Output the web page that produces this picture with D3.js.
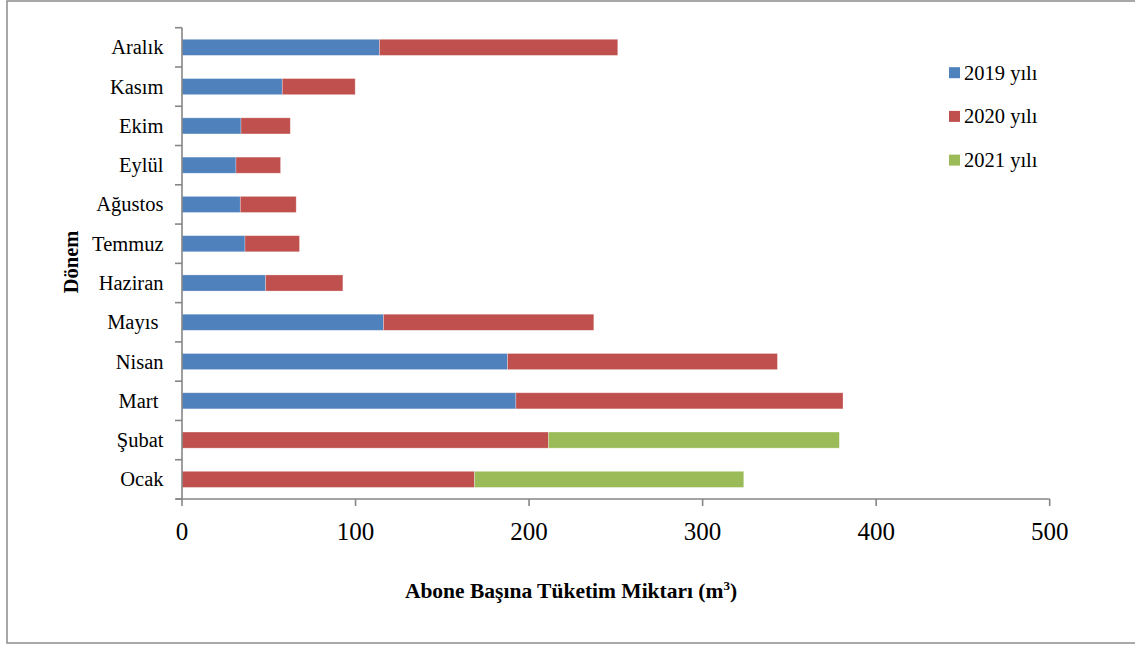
<!DOCTYPE html>
<html>
<head>
<meta charset="utf-8">
<script src="https://cdn.jsdelivr.net/npm/d3@7"></script>
<style>
  body { margin: 0; background: #fff; }
  svg { display: block; font-family: "Liberation Serif", "Times New Roman", serif; }
  .axis path, .axis line { stroke: #868686; }
</style>
</head>
<body>
<div id="chart"></div>
<script>
// months bottom to top, as in the chart
var months = ['Ocak', 'Şubat', 'Mart', 'Nisan', 'Mayıs', 'Haziran', 'Temmuz', 'Ağustos', 'Eylül', 'Ekim', 'Kasım', 'Aralık']
var monthLabels = ['Ocak', 'Şubat', 'Mart ', 'Nisan', 'Mayıs ', 'Haziran', 'Temmuz', 'Ağustos', 'Eylül', 'Ekim', 'Kasım', 'Aralık']

var v2019 = [0, 0, 192.4, 187.6, 116.1, 48.2, 36.3, 33.6, 31.1, 34.0, 57.8, 113.8]
var v2020 = [168.6, 211.2, 188.5, 155.5, 121.2, 44.5, 31.4, 32.2, 25.7, 28.4, 42.0, 137.3]
var v2021 = [155.1, 167.6, 0, 0, 0, 0, 0, 0, 0, 0, 0, 0]

var seriesKeys = ['2019 yılı', '2020 yılı', '2021 yılı']
var colors = ['#4F81BD', '#C0504D', '#9BBB59']
var xTicks = [0, 100, 200, 300, 400, 500]

var rows = months.map(function(m, i){
  return {month: m, label: monthLabels[i], '2019 yılı': v2019[i], '2020 yılı': v2020[i], '2021 yılı': v2021[i]}
})

var W = 1135, H = 648
var m = {left: 182, right: 1049.7, top: 27.7, bottom: 499}

var svg = d3.select('#chart').append('svg')
  .attr('width', W).attr('height', H)

// outer frame (right edge runs off the picture)
svg.append('rect')
  .attr('x', 7).attr('y', 1).attr('width', 1140).attr('height', 642)
  .attr('fill', 'none').attr('stroke', '#8c8c8c').attr('stroke-width', 1.5)

var x = d3.scaleLinear().domain([0, 500]).range([m.left, m.right])
var y = d3.scaleBand().domain(months).range([m.bottom, m.top])
  .paddingInner(0.59).paddingOuter(0.295)

var stack = d3.stack().keys(seriesKeys)
var layers = stack(rows)

var layerSel = svg.selectAll('g.layer').data(layers).join('g')
  .attr('class', 'layer')
  .attr('fill', function(d, i){ return colors[i] })

layerSel.selectAll('rect')
  .data(function(d){ return d.filter(function(p){ return p[1] > p[0] }) })
  .join('rect')
  .attr('x', function(d){ return x(d[0]) })
  .attr('width', function(d){ return x(d[1]) - x(d[0]) })
  .attr('y', function(d){ return y(d.data.month) })
  .attr('height', y.bandwidth())
  .attr('stroke', 'rgba(255,255,255,0.35)')
  .attr('stroke-width', 0.8)

// y axis line with ticks at band edges
var yAxisG = svg.append('g').attr('class', 'axis')
yAxisG.append('line')
  .attr('x1', m.left).attr('x2', m.left).attr('y1', m.top).attr('y2', m.bottom)
  .attr('stroke-width', 1.6)
var step = y.step()
d3.range(months.length + 1).forEach(function(i){
  yAxisG.append('line')
    .attr('x1', m.left - 7).attr('x2', m.left)
    .attr('y1', m.bottom - i * step).attr('y2', m.bottom - i * step)
    .attr('stroke-width', 1.6)
})

svg.selectAll('text.month').data(rows).join('text')
  .attr('class', 'month')
  .attr('x', 163.5)
  .attr('y', function(d){ return y(d.month) + y.bandwidth() / 2 + 7 })
  .attr('text-anchor', 'end')
  .style('white-space', 'pre')
  .attr('font-size', 20.5)
  .attr('fill', '#000')
  .text(function(d){ return d.label })

// x axis
var xAxisG = svg.append('g').attr('class', 'axis')
xAxisG.append('line')
  .attr('x1', m.left - 6).attr('x2', m.right).attr('y1', m.bottom).attr('y2', m.bottom)
  .attr('stroke-width', 1.6)
xAxisG.selectAll('line.tick').data(xTicks).join('line')
  .attr('class', 'tick')
  .attr('x1', x).attr('x2', x).attr('y1', m.bottom).attr('y2', m.bottom + 7)
  .attr('stroke-width', 1.6)
svg.selectAll('text.xtick').data(xTicks).join('text')
  .attr('class', 'xtick')
  .attr('x', x).attr('y', 539.5)
  .attr('text-anchor', 'middle')
  .attr('font-size', 25)
  .attr('fill', '#000')
  .text(function(d){ return d })

// axis titles
var xt = svg.append('text')
  .attr('x', 571).attr('y', 598)
  .attr('text-anchor', 'middle')
  .attr('font-size', 21.5).attr('font-weight', 'bold')
xt.append('tspan').text('Abone Başına Tüketim Miktarı (m')
xt.append('tspan').attr('font-size', 13).attr('dy', -8).text('3')
xt.append('tspan').attr('dy', 8).text(')')

svg.append('text')
  .attr('transform', 'translate(78,262) rotate(-90)')
  .attr('text-anchor', 'middle')
  .attr('font-size', 20.5).attr('font-weight', 'bold')
  .text('Dönem')

// legend
var legend = svg.selectAll('g.legend').data(seriesKeys).join('g')
  .attr('class', 'legend')
  .attr('transform', function(d, i){ return 'translate(949,' + (72.7 + i * 43.7) + ')' })
legend.append('rect')
  .attr('x', 0).attr('y', -5.5).attr('width', 11).attr('height', 11)
  .attr('fill', function(d, i){ return colors[i] })
legend.append('text')
  .attr('x', 15).attr('y', 7)
  .attr('font-size', 20.5)
  .text(function(d){ return d })
</script>
</body>
</html>
